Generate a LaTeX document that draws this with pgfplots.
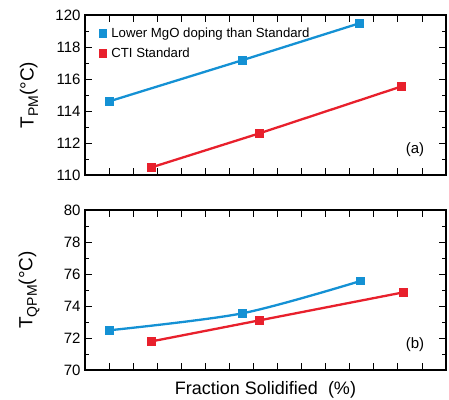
\documentclass[border=0pt]{standalone}
\usepackage{fontspec}
\setmainfont{Liberation Sans}
\usepackage{pgfplots}
\pgfplotsset{compat=1.18}
\definecolor{cblue}{RGB}{20,145,212}
\definecolor{cred}{RGB}{232,32,44}
\begin{document}
\begin{tikzpicture}
\path[use as bounding box] (0bp,0bp) rectangle (449bp,400bp);
\pgfplotsset{
 panel/.style={
  scale only axis, width=361bp, height=160bp,
  xmin=0, xmax=15, xtick={1,...,14}, xticklabels={},
  xtick pos=both, ytick pos=both,
  tick align=inside, major tick length=7bp, minor tick length=4bp,
  minor y tick num=1,
  axis line style={line width=1.1bp},
  tick style={line width=0.8bp, black},
  ticklabel style={font=\fontsize{15bp}{18bp}\selectfont},
  /pgf/number format/assume math mode=true,
  yticklabel style={xshift=-1bp},
  ylabel style={at={(axis description cs:-0.155,0.5)}, anchor=center, font=\fontsize{19bp}{22bp}\selectfont},
  xlabel style={at={(axis description cs:0.5,-0.125)}, anchor=center, font=\fontsize{18bp}{22bp}\selectfont},
  every axis plot/.append style={line width=2.3bp, mark=square*, mark size=3.3bp},
 }
}
\begin{axis}[panel, at={(85bp,225bp)}, anchor=south west,
  ymin=110, ymax=120, ytick={110,112,...,120},
  ylabel={T\raisebox{-0.45ex}{\fontsize{14bp}{14bp}\selectfont PM}(°C)},
  legend style={draw=none, fill=none, at={(axis description cs:0.032,0.945)}, anchor=north west,
    font=\fontsize{13.2bp}{15bp}\selectfont, row sep=5bp},
  legend cell align=left]
\addlegendimage{only marks, mark=square*, mark size=3.3bp, color=cblue}
\addlegendentry{\hspace{3bp}Lower MgO doping than Standard}
\addlegendimage{only marks, mark=square*, mark size=3.3bp, color=cred}
\addlegendentry{\hspace{3bp}CTI Standard}
\addplot[color=cblue, forget plot] coordinates {(1,114.6)(6.53,117.17)(11.40,119.48)};
\addplot[color=cred, forget plot] coordinates {(2.77,110.48)(7.24,112.6)(13.16,115.54)};
\node[font=\fontsize{15bp}{17bp}\selectfont] at (axis description cs:0.914,0.156) {(a)};
\end{axis}
\begin{axis}[panel, at={(85bp,30bp)}, anchor=south west,
  ymin=70, ymax=80, ytick={70,72,...,80},
  ylabel={T\raisebox{-0.45ex}{\fontsize{14bp}{14bp}\selectfont QPM}(°C)},
  xlabel={Fraction Solidified\ \ (\%)}]
\addplot[color=cblue, smooth] coordinates {(1,72.48)(6.53,73.54)(11.44,75.56)};
\addplot[color=cred] coordinates {(2.77,71.79)(7.24,73.1)(13.22,74.85)};
\node[font=\fontsize{15bp}{17bp}\selectfont] at (axis description cs:0.914,0.156) {(b)};
\end{axis}
\end{tikzpicture}
\end{document}
